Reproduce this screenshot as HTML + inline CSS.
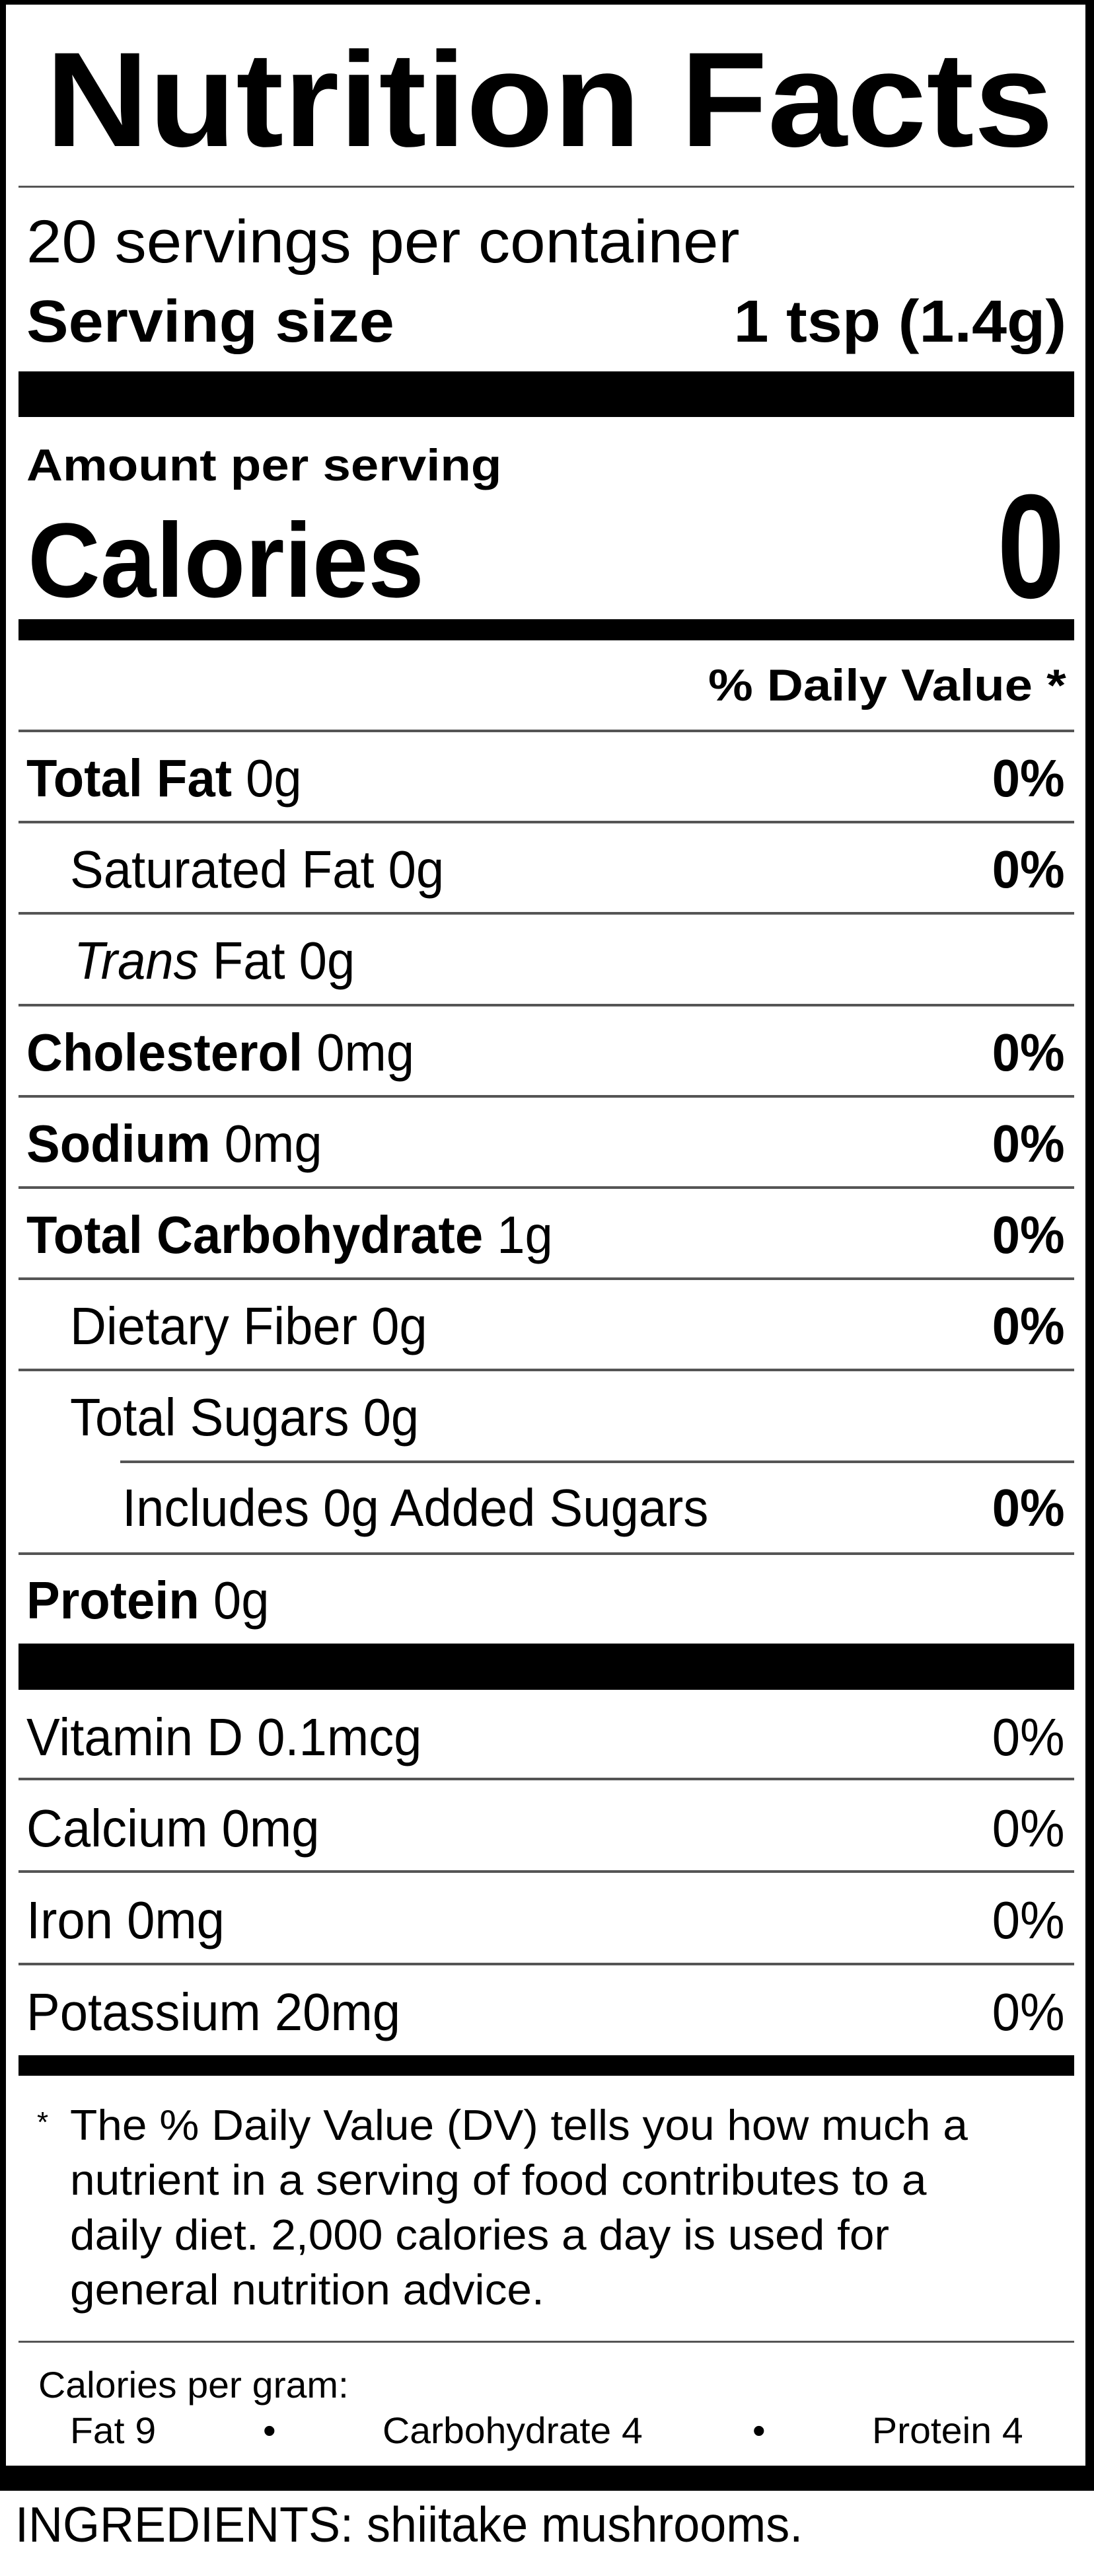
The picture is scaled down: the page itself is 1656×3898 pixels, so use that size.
<!DOCTYPE html>
<html><head><meta charset="utf-8"><style>
*{margin:0;padding:0}
body{width:1656px;height:3898px;background:#fff;position:relative;overflow:hidden;font-family:"Liberation Sans",Arial,sans-serif;color:#000}
.t{position:absolute;white-space:nowrap;line-height:1}
.l{transform-origin:left top}
.r{transform-origin:right top;text-align:right}
.b{font-weight:bold}
.hl{position:absolute;left:28px;width:1598px;height:4px;background:#555}
.bar{position:absolute;left:28px;width:1598px;background:#000}
.row{font-size:80px;transform:scaleX(0.95)}
</style></head><body>
<div style="position:absolute;left:0;top:0;width:1656px;height:3769px;box-sizing:border-box;border-left:9px solid #000;border-right:13px solid #000;border-top:7px solid #000;border-bottom:38px solid #000"></div>

<div class="t l b" style="left:69px;top:49px;font-size:204px;transform:scaleX(1.06)">Nutrition Facts</div>
<div class="hl" style="top:281px;height:3px"></div>

<div class="t l" style="left:40px;top:320px;font-size:92px;transform:scaleX(1.045)">20 servings per container</div>
<div class="t l b" style="left:40px;top:442px;font-size:90px;transform:scaleX(1.06)">Serving size</div>
<div class="t r b" style="right:42px;top:442px;font-size:90px;transform:scaleX(1.06)">1 tsp (1.4g)</div>
<div class="bar" style="top:562px;height:69px"></div>

<div class="t l b" style="left:40px;top:670px;font-size:68px;transform:scaleX(1.12)">Amount per serving</div>
<div class="t l b" style="left:42px;top:768px;font-size:160px;transform:scaleX(0.95)">Calories</div>
<div class="t r b" style="right:44px;top:715px;font-size:224px;transform:scaleX(0.82)">0</div>
<div class="bar" style="top:937px;height:32px"></div>

<div class="t r b" style="right:42px;top:1003px;font-size:68px;transform:scaleX(1.12)">% Daily Value *</div>

<div class="hl" style="top:1104px"></div>
<div class="t l row" style="left:40px;top:1138px"><b>Total Fat</b> 0g</div>
<div class="t r b row" style="right:44px;top:1138px">0%</div>

<div class="hl" style="top:1242px"></div>
<div class="t l row" style="left:106px;top:1276px">Saturated Fat 0g</div>
<div class="t r b row" style="right:44px;top:1276px">0%</div>

<div class="hl" style="top:1380px"></div>
<div class="t l row" style="left:112px;top:1414px"><i>Trans</i> Fat 0g</div>

<div class="hl" style="top:1519px"></div>
<div class="t l row" style="left:40px;top:1553px"><b>Cholesterol</b> 0mg</div>
<div class="t r b row" style="right:44px;top:1553px">0%</div>

<div class="hl" style="top:1657px"></div>
<div class="t l row" style="left:40px;top:1691px"><b>Sodium</b> 0mg</div>
<div class="t r b row" style="right:44px;top:1691px">0%</div>

<div class="hl" style="top:1795px"></div>
<div class="t l row" style="left:40px;top:1829px"><b>Total Carbohydrate</b> 1g</div>
<div class="t r b row" style="right:44px;top:1829px">0%</div>

<div class="hl" style="top:1933px"></div>
<div class="t l row" style="left:106px;top:1967px">Dietary Fiber 0g</div>
<div class="t r b row" style="right:44px;top:1967px">0%</div>

<div class="hl" style="top:2071px"></div>
<div class="t l row" style="left:106px;top:2105px">Total Sugars 0g</div>

<div class="hl" style="top:2210px;left:182px;width:1444px"></div>
<div class="t l row" style="left:185px;top:2242px">Includes 0g Added Sugars</div>
<div class="t r b row" style="right:44px;top:2242px">0%</div>

<div class="hl" style="top:2349px"></div>
<div class="t l row" style="left:40px;top:2382px"><b>Protein</b> 0g</div>

<div class="bar" style="top:2487px;height:70px"></div>

<div class="t l row" style="left:40px;top:2589px">Vitamin D 0.1mcg</div>
<div class="t r row" style="right:44px;top:2589px">0%</div>
<div class="hl" style="top:2690px"></div>
<div class="t l row" style="left:40px;top:2727px">Calcium 0mg</div>
<div class="t r row" style="right:44px;top:2727px">0%</div>
<div class="hl" style="top:2830px"></div>
<div class="t l row" style="left:40px;top:2866px">Iron 0mg</div>
<div class="t r row" style="right:44px;top:2866px">0%</div>
<div class="hl" style="top:2970px"></div>
<div class="t l row" style="left:40px;top:3005px">Potassium 20mg</div>
<div class="t r row" style="right:44px;top:3005px">0%</div>

<div class="bar" style="top:3110px;height:31px"></div>

<div class="t l" style="left:56px;top:3190px;font-size:44px">*</div>
<div class="t l" style="left:106px;top:3183px;font-size:65px;transform:scaleX(1.04)">The % Daily Value (DV) tells you how much a</div>
<div class="t l" style="left:106px;top:3266px;font-size:65px;transform:scaleX(1.04)">nutrient in a serving of food contributes to a</div>
<div class="t l" style="left:106px;top:3349px;font-size:65px;transform:scaleX(1.04)">daily diet. 2,000 calories a day is used for</div>
<div class="t l" style="left:106px;top:3432px;font-size:65px;transform:scaleX(1.04)">general nutrition advice.</div>

<div class="hl" style="top:3542px;height:3px"></div>
<div class="t l" style="left:58px;top:3581px;font-size:56px;transform:scaleX(1.02)">Calories per gram:</div>
<div class="t l" style="left:106px;top:3650px;font-size:56px;transform:scaleX(1.02)">Fat 9</div>
<div class="t l" style="left:398px;top:3650px;font-size:56px">•</div>
<div class="t l" style="left:579px;top:3650px;font-size:56px;transform:scaleX(1.02)">Carbohydrate 4</div>
<div class="t l" style="left:1139px;top:3650px;font-size:56px">•</div>
<div class="t l" style="left:1320px;top:3650px;font-size:56px;transform:scaleX(1.02)">Protein 4</div>

<div class="t l" style="left:23px;top:3783px;font-size:75px;transform:scaleX(0.96)">INGREDIENTS: shiitake mushrooms.</div>
</body></html>
